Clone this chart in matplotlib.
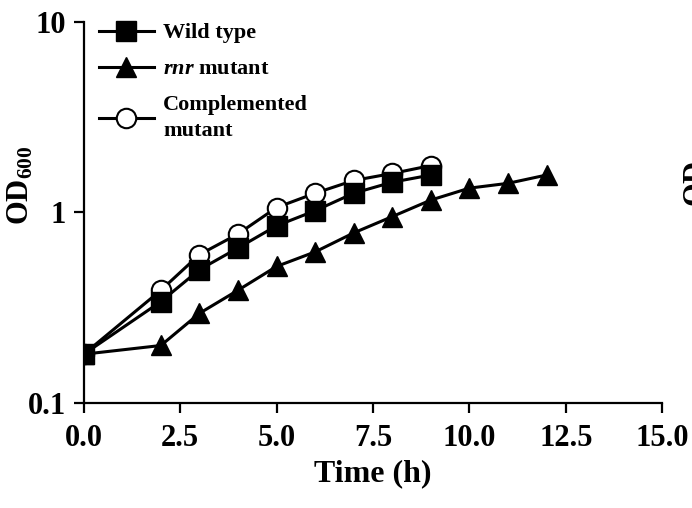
import numpy as np
import matplotlib.pyplot as plt
from matplotlib.ticker import FixedLocator, FixedFormatter, NullLocator

plt.rcParams['font.family'] = 'Liberation Serif'
plt.rcParams['font.weight'] = 'bold'
plt.rcParams['mathtext.fontset'] = 'custom'
plt.rcParams['mathtext.rm'] = 'Liberation Serif:bold'
plt.rcParams['mathtext.bf'] = 'Liberation Serif:bold'
plt.rcParams['mathtext.it'] = 'Liberation Serif:italic:bold'

# growth data (OD600 vs time)
t_wt = [0, 2, 3, 4, 5, 6, 7, 8, 9]
od_wt = [0.18, 0.34, 0.50, 0.65, 0.85, 1.02, 1.26, 1.44, 1.57]

t_rnr = [0, 2, 3, 4, 5, 6, 7, 8, 9, 10, 11, 12]
od_rnr = [0.18, 0.20, 0.295, 0.39, 0.52, 0.62, 0.78, 0.95, 1.16, 1.34, 1.42, 1.57]

t_comp = [0, 2, 3, 4, 5, 6, 7, 8, 9]
od_comp = [0.18, 0.39, 0.60, 0.77, 1.06, 1.26, 1.47, 1.60, 1.76]

xticks = [0.0, 2.5, 5.0, 7.5, 10.0, 12.5, 15.0]
yticks = [0.1, 1, 10]
ylabels = ['0.1', '1', '10']

fig = plt.figure(figsize=(6.92, 5.08), dpi=100)
ax = fig.add_axes([0.121, 0.207, 0.836, 0.75])

ax.plot(t_comp, od_comp, '-o', color='black', mfc='white', mec='black', mew=1.5,
        ms=14, lw=2.2, label='Complemented\nmutant', zorder=3)
ax.plot(t_rnr, od_rnr, '-^', color='black', ms=15, lw=2.2,
        label=r'$\mathit{rnr}$ mutant', zorder=4)
ax.plot(t_wt, od_wt, '-s', color='black', ms=14, lw=2.2, label='Wild type', zorder=5)

ax.set_yscale('log')
ax.set_xlim(0, 15)
ax.set_ylim(0.1, 10)
ax.set_xticks(xticks)
ax.set_xticklabels(['%.1f' % v for v in xticks])
ax.yaxis.set_major_locator(FixedLocator(yticks))
ax.yaxis.set_major_formatter(FixedFormatter(ylabels))
ax.yaxis.set_minor_locator(NullLocator())

for s in ['top', 'right']:
    ax.spines[s].set_visible(False)
for s in ['left', 'bottom']:
    ax.spines[s].set_linewidth(1.6)
ax.tick_params(width=1.6, length=7.5, labelsize=22)
ax.tick_params(axis='x', pad=8)
ax.tick_params(axis='y', pad=5)
for lab in ax.get_xticklabels() + ax.get_yticklabels():
    lab.set_fontweight('bold')

ax.set_xlabel('Time (h)', fontsize=23, fontweight='bold', labelpad=4)
ax.set_ylabel(r'OD$_{600}$', fontsize=22, fontweight='bold')
ax.yaxis.set_label_coords(-0.083, 0.57)

h, l = ax.get_legend_handles_labels()
leg = ax.legend(h[::-1], l[::-1], loc='upper left', bbox_to_anchor=(-0.009, 1.05),
                frameon=False, fontsize=16, handlelength=2.5, handletextpad=0.4,
                labelspacing=0.7)
for txt in leg.get_texts():
    txt.set_fontweight('bold')
    txt.set_linespacing(1.4)

# clipped label of the neighbouring panel
fig.text(0.987, 0.671, r'OD$_{600}$', rotation=90, fontsize=22, fontweight='bold',
         ha='left', va='center')

fig.savefig('out.png', dpi=100)
